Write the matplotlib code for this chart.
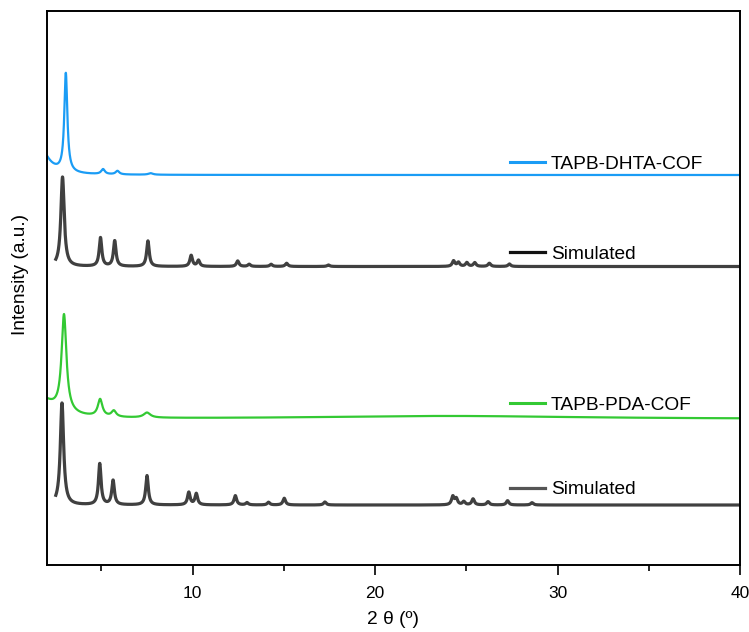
import matplotlib
matplotlib.use("Agg")
import matplotlib.pyplot as plt
import numpy as np
from matplotlib.lines import Line2D
from matplotlib.legend import Legend

plt.rcParams['font.family'] = ['Liberation Sans', 'DejaVu Sans']

# Peak tables (2 theta in degrees, height in a.u., half width)
# TAPB-DHTA-COF experimental
dhta_pos = [1.6, 3.05, 5.09, 5.88, 7.70]
dhta_height = [28.7, 98.5, 5.0, 3.5, 1.5]
dhta_width = [0.56, 0.10, 0.12, 0.12, 0.15]
dhta_base = 390.0

# TAPB-DHTA-COF simulated
dhta_sim_pos = [2.87, 4.95, 5.73, 7.55, 9.92, 10.32, 12.47, 13.10, 14.30, 15.15,
                17.44, 24.30, 24.57, 25.03, 25.46, 26.26, 27.36]
dhta_sim_height = [89.5, 28.5, 25.5, 25.5, 11.0, 6.0, 5.5, 2.2, 2.2, 3.2,
                   1.5, 5.5, 4.0, 3.8, 3.8, 3.2, 2.5]
dhta_sim_base = 298.5

# TAPB-PDA-COF experimental
pda_pos = [1.6, 2.95, 4.93, 5.68, 7.50, 24.0]
pda_height = [20.9, 97.0, 17.0, 6.0, 5.0, 3.0]
pda_width = [1.0, 0.16, 0.15, 0.15, 0.22, 9.0]
pda_base = 146.0

# TAPB-PDA-COF simulated
pda_sim_pos = [2.84, 4.91, 5.64, 7.50, 9.79, 10.20, 12.34, 12.98, 14.16, 15.02,
               17.25, 24.26, 24.45, 24.86, 25.37, 26.19, 27.26, 28.60]
pda_sim_height = [102.0, 41.0, 24.3, 29.3, 12.5, 11.2, 9.3, 2.3, 2.7, 6.7,
                  3.0, 8.3, 6.0, 3.3, 6.0, 3.3, 4.3, 2.3]
pda_sim_base = 60.0

sim_main_width = 0.11
sim_width = 0.085


def pattern(x, pos, height, width, base):
    # sum of Lorentzian peaks on a flat baseline
    y = np.full_like(x, base)
    for p, h, w in zip(pos, height, width):
        y += h / (1 + ((x - p) / w) ** 2)
    return y


x_exp = np.linspace(2.0, 40, 6000)
x_sim = np.linspace(2.5, 40, 6000)

sim_w_dhta = [sim_main_width] + [sim_width] * (len(dhta_sim_pos) - 1)
sim_w_pda = [sim_main_width] + [sim_width] * (len(pda_sim_pos) - 1)

fig = plt.figure(figsize=(7.49, 6.32), dpi=100)
ax = fig.add_axes([0.0623, 0.106, 0.9257, 0.8766])

blue = '#1a9cf5'
green = '#33c933'
grey = '#404040'

ax.plot(x_exp, pattern(x_exp, dhta_pos, dhta_height, dhta_width, dhta_base),
        color=blue, lw=1.6)
ax.plot(x_sim, pattern(x_sim, dhta_sim_pos, dhta_sim_height, sim_w_dhta, dhta_sim_base),
        color=grey, lw=2.3)
ax.plot(x_exp, pattern(x_exp, pda_pos, pda_height, pda_width, pda_base),
        color=green, lw=1.6)
ax.plot(x_sim, pattern(x_sim, pda_sim_pos, pda_sim_height, sim_w_pda, pda_sim_base),
        color=grey, lw=2.3)

ax.set_xlim(2, 40)
ax.set_ylim(0, 554)

# axes styling
for side in ['left', 'bottom', 'right', 'top']:
    ax.spines[side].set_linewidth(1.4)
ax.set_yticks([])
ax.set_xticks([10, 20, 30, 40])
ax.set_xticks([5, 15, 25, 35], minor=True)
ax.tick_params(axis='x', which='major', direction='out', length=7.2, width=1.2,
               labelsize=12.5, pad=8)
ax.tick_params(axis='x', which='minor', direction='out', length=4, width=1.2)

ax.set_xlabel('2 θ (º)', fontsize=13.8, labelpad=7)
ax.set_ylabel('Intensity (a.u.)', fontsize=13.8)
ax.yaxis.set_label_coords(-0.025, 0.525)

# one legend entry per pattern, each next to its curve
entries = [('TAPB-DHTA-COF', blue, 2.2, 0.723),
           ('Simulated', '#111111', 2.3, 0.561),
           ('TAPB-PDA-COF', green, 2.2, 0.288),
           ('Simulated', '#555555', 2.3, 0.136)]
for label, col, lw, yfrac in entries:
    leg = Legend(ax, [Line2D([], [], color=col, lw=lw)], [label],
                 loc='center left', bbox_to_anchor=(0.668, yfrac),
                 frameon=False, fontsize=13.8, handlelength=1.83,
                 handletextpad=0.3, borderpad=0, borderaxespad=0)
    ax.add_artist(leg)

fig.savefig('out.png', dpi=100)
